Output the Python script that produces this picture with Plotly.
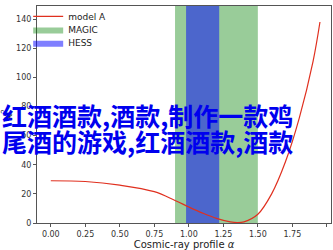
import plotly.graph_objects as go

# ---- data ----
alpha = [0.0, 0.25, 0.5, 0.75, 0.9, 1.0, 1.1, 1.2, 1.3, 1.35, 1.4, 1.5, 1.6, 1.7, 1.8, 1.9, 1.95]
model_a = [29.0, 28.5, 26.0, 21.5, 15.5, 11.0, 6.8, 3.2, 0.8, 0.3, 0.8, 6.0, 20.0, 42.0, 72.0, 111.0, 138.0]
magic_band = [0.90, 1.50]
hess_band = [0.98, 1.22]
x_range = [-0.1, 2.03]
y_range = [0, 149]
x_ticks = [0, 0.25, 0.5, 0.75, 1.0, 1.25, 1.5, 1.75, 2.0]
x_ticklabels = ["0.00", "0.25", "0.50", "0.75", "1.00", "1.25", "1.50", "1.75", "2.00"]
y_ticks = [0, 20, 40, 60, 80, 100, 120, 140]
title_lines = ["红酒酒款,酒款,制作一款鸡", "尾酒的游戏,红酒酒款,酒款"]

fig = go.Figure()


def band(lo, hi):
    return ([lo, hi, hi, lo, lo], [y_range[0], y_range[0], y_range[1], y_range[1], y_range[0]])


bx, by = band(*magic_band)
fig.add_trace(go.Scatter(x=bx, y=by, fill="toself", mode="lines", line=dict(width=0),
                         fillcolor="rgba(0,128,0,0.4)", name="MAGIC", legend="legend2", hoverinfo="skip"))
hx, hy = band(*hess_band)
fig.add_trace(go.Scatter(x=hx, y=hy, fill="toself", mode="lines", line=dict(width=0),
                         fillcolor="rgba(0,0,255,0.5)", name="HESS", legend="legend3", hoverinfo="skip"))
fig.add_trace(go.Scatter(x=alpha, y=model_a, mode="lines", line=dict(color="#e0301f", width=1.2, shape="spline"),
                         name="model A", legend="legend"))

axis_common = dict(showline=True, linecolor="#555", linewidth=1, mirror=True, ticks="outside",
                   ticklen=3, tickcolor="#555", showgrid=False, zeroline=False,
                   tickfont=dict(family="DejaVu Sans", size=8, color="#333"))

legend_common = dict(xanchor="left", yanchor="middle", bgcolor="rgba(0,0,0,0)",
                     font=dict(family="DejaVu Sans", size=9, color="#222"), x=-0.03)
legend_rows = [14.5, 27.8, 41.2]

fig.update_layout(
    width=333, height=250,
    margin=dict(l=37, r=2, t=4, b=27),
    plot_bgcolor="white", paper_bgcolor="white",
    xaxis=dict(range=x_range, tickvals=x_ticks, ticktext=x_ticklabels,
               title=dict(text="Cosmic-ray profile <i>α</i>", font=dict(family="DejaVu Sans", size=10, color="#222"), standoff=3),
               **axis_common),
    yaxis=dict(range=y_range, tickvals=y_ticks,
               title=dict(text="χ<sup>2</sup>", font=dict(family="DejaVu Sans", size=10, color="#222"), standoff=4),
               **axis_common),
    legend=dict(y=(223 - legend_rows[0]) / 219, **legend_common),
    legend2=dict(y=(223 - legend_rows[1]) / 219, **legend_common),
    legend3=dict(y=(223 - legend_rows[2]) / 219, **legend_common),
    showlegend=True,
)

for i, line in enumerate(title_lines):
    fig.add_annotation(text=line, xref="paper", yref="paper", x=-0.125, y=(223 - 113.5 - i * 26.5) / 219,
                       xanchor="left", yanchor="middle", showarrow=False,
                       font=dict(family="Noto Sans CJK SC", size=25, color="#0000ee", weight="bold"))

fig.write_html("out.html")
